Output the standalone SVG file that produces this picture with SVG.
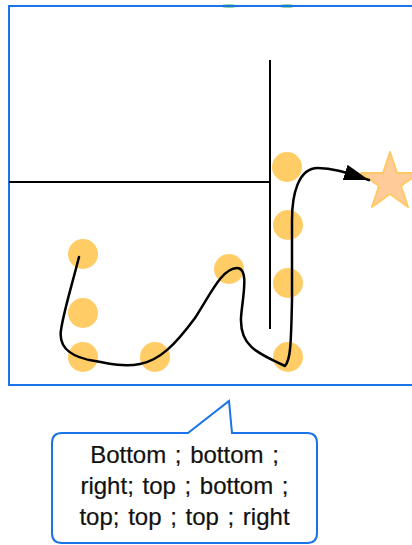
<svg xmlns="http://www.w3.org/2000/svg" width="412" height="545" viewBox="0 0 412 545">
  <style>
    .wall { stroke: #000; stroke-width: 2; fill: none; }
    .dot { fill: #ffcc66; }
    .route { stroke: #000; stroke-width: 2.5; fill: none; stroke-linejoin: round; stroke-linecap: round; }
    .frame { fill: none; stroke: #1a73e8; stroke-width: 2; }
    .callout { fill: #fff; stroke: #1a73e8; stroke-width: 2; stroke-linejoin: miter; }
    .label { font-family: "Liberation Sans", Arial, sans-serif; font-size: 24px; fill: #111; text-anchor: middle; word-spacing: 2px; stroke: #111; stroke-width: 0.2px; }
  </style>
  <defs>
    <marker id="arrow" markerUnits="userSpaceOnUse" markerWidth="26" markerHeight="18" refX="25" refY="8" orient="auto">
      <path d="M0,0 L25,8 L0,16 Z" fill="#000"/>
    </marker>
  </defs>

  <!-- small green marks sitting on the top border -->
  <g id="green-marks">
    <ellipse cx="229" cy="6" rx="8" ry="2" fill="#8ed49a"/>
    <ellipse cx="287" cy="6" rx="8" ry="2" fill="#8ed49a"/>
  </g>

  <!-- outer frame -->
  <g id="frame">
    <rect class="frame" x="9" y="6" width="420" height="379"/>
  </g>

  <!-- walls -->
  <g id="walls">
    <path class="wall" d="M9,182 L271,182"/>
    <path class="wall" d="M270,60 L270,329"/>
  </g>

  <!-- waypoints -->
  <g id="points">
    <circle id="p1" class="dot" cx="83" cy="254" r="15"/>
    <circle id="p2" class="dot" cx="83" cy="313" r="15"/>
    <circle id="p3" class="dot" cx="83" cy="357" r="15"/>
    <circle id="p4" class="dot" cx="155" cy="357" r="15"/>
    <circle id="p5" class="dot" cx="229" cy="269" r="15"/>
    <circle id="p6" class="dot" cx="288" cy="357" r="15"/>
    <circle id="p7" class="dot" cx="288" cy="283" r="15"/>
    <circle id="p8" class="dot" cx="288" cy="225" r="15"/>
    <circle id="p9" class="dot" cx="287" cy="167" r="15"/>
  </g>

  <!-- target star -->
  <g id="star">
    <polygon points="361,173 383,173 390,152 397,173 419,173 401,186 408,207 390,194 372,207 379,186" fill="#ffcc99" stroke="#ffc966" stroke-width="2" stroke-linejoin="round"/>
  </g>

  <!-- route -->
  <g id="connectors">
    <path class="route" marker-end="url(#arrow)" d="M79,257 C72,285 64,310 61,330 C58,350 75,358 95,361 C110,364 125,367 140,364 C160,360 175,345 195,318 C210,295 222,268 237,268 C250,268 242,300 241,318 C240,345 255,352 285,366 C290,360 291,350 292,300 L292,220 C292,195 298,168 318,168 C335,168 350,174 369,180"/>
  </g>

  <!-- callout -->
  <g id="note">
    <path class="callout" d="M62,433 L188,433 L229,401 L232,433 L307,433 Q317,433 317,443 L317,533 Q317,543 307,543 L62,543 Q52,543 52,533 L52,443 Q52,433 62,433 Z"/>
    <text class="label" x="184.5" y="463">Bottom ; bottom ;</text>
    <text class="label" x="184.5" y="494">right; top ; bottom ;</text>
    <text class="label" x="184.5" y="525">top; top ; top ; right</text>
  </g>
</svg>
